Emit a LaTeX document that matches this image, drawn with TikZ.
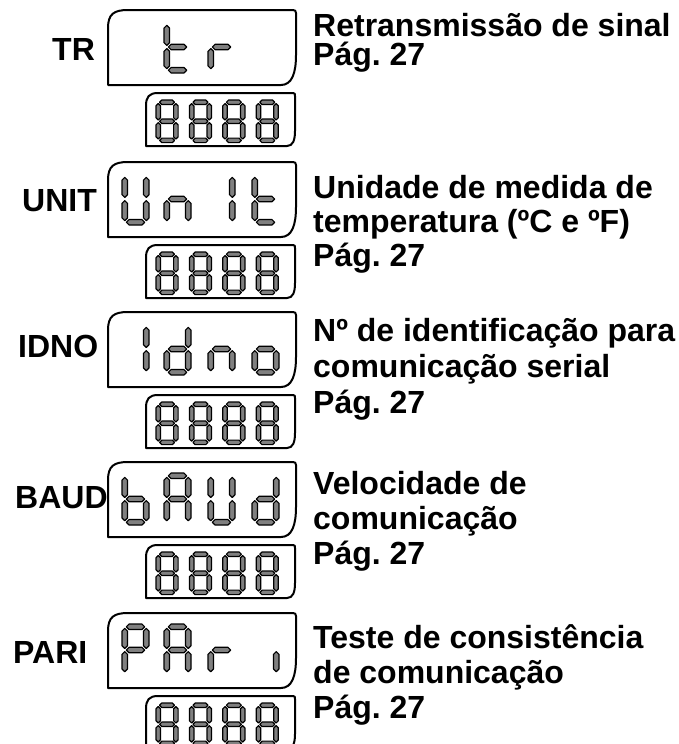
\documentclass[tikz,border=0pt]{standalone}
\usepackage{fontspec}
\setmainfont{Liberation Sans}
\frenchspacing
\lineskiplimit=-100pt
\newcommand\lcdsega{(4.35,2.75)--(7.1,0)--(19.9,0)--(22.65,2.75)--(19.9,5.5)--(7.1,5.5)--cycle}
\newcommand\lcdsegb{(24.25,4.35)--(27,7.1)--(27,21.65)--(24.25,24.4)--(21.5,21.65)--(21.5,7.1)--cycle}
\newcommand\lcdsegc{(24.25,27.6)--(27,30.35)--(27,44.9)--(24.25,47.65)--(21.5,44.9)--(21.5,30.35)--cycle}
\newcommand\lcdsegd{(4.35,49.25)--(7.1,46.5)--(19.9,46.5)--(22.65,49.25)--(19.9,52)--(7.1,52)--cycle}
\newcommand\lcdsege{(2.75,27.6)--(5.5,30.35)--(5.5,44.9)--(2.75,47.65)--(0,44.9)--(0,30.35)--cycle}
\newcommand\lcdsegf{(2.75,4.35)--(5.5,7.1)--(5.5,21.65)--(2.75,24.4)--(0,21.65)--(0,7.1)--cycle}
\newcommand\lcdsegg{(4.35,26)--(7.1,23.25)--(19.9,23.25)--(22.65,26)--(19.9,28.75)--(7.1,28.75)--cycle}
\tikzset{
  x=1pt,y=-1pt,
  seg/.style={draw=black,line width=1.2pt,fill=black!50,line join=round},
  frame/.style={draw=black,line width=2pt,line join=round},
  lbl/.style={inner sep=0pt,anchor=base west,font=\fontsize{32}{32}\selectfont\bfseries},
  txt/.style={lbl,align=left,font=\fontsize{32}{#1}\selectfont\bfseries},
  pics/digit/.style={code={\foreach \s in {#1}{\path[seg] \csname lcdseg\s\endcsname;}}},
  pics/panel/.style={code={
    \draw[frame] (108,75) -- (108,18) .. controls (108,4) and (114,0) .. (128,0) -- (293,0)
      .. controls (295,0) and (296,1) .. (296,3) -- (296,45) .. controls (296,63) and (292,75) .. (281,75) -- cycle;
    \draw[frame] (146,136) -- (146,96) .. controls (146,87) and (149,83) .. (158,83) -- (293,83)
      .. controls (295,83) and (295,84) .. (295,86) -- (295,121) .. controls (295,130) and (293,136) .. (287,136) -- cycle;
    \foreach \i in {0,...,3}
      \pic[scale=0.82] at (156+33.4*\i,90) {digit={a,b,c,d,e,f,g}};
  }},
}
\begin{document}
\begin{tikzpicture}
\useasboundingbox (0,0) rectangle (678,744);

\pic (trpanel) at (0,10) {panel};
\pic at (164,21) {digit={d,e,f,g}};
\pic at (208,21) {digit={e,g}};
\node[lbl] (tr) at (52,60) {TR};
\node[txt=29] (trtxt) at (313,65) {Retransmissão de sinal\\Pág. 27};

\pic (unitpanel) at (0,162) {panel};
\pic at (122,173) {digit={b,c,d,e,f}};
\pic at (164,173) {digit={c,e,g}};
\pic at (208,173) {digit={b,c}};
\pic at (252,173) {digit={d,e,f,g}};
\node[lbl] (unit) at (22,211) {UNIT};
\node[txt=34] (unittxt) at (313,266) {Unidade de medida de\\temperatura (ºC e ºF)\\Pág. 27};

\pic (idnopanel) at (0,312) {panel};
\pic at (122,323) {digit={b,c}};
\pic at (164,323) {digit={b,c,d,e,g}};
\pic at (208,323) {digit={c,e,g}};
\pic at (252,323) {digit={c,d,e,g}};
\node[lbl] (idno) at (18,357) {IDNO};
\node[txt=36] (idnotxt) at (313,413) {Nº de identificação para\\comunicação serial\\Pág. 27};

\pic (baudpanel) at (0,462) {panel};
\pic at (122,473) {digit={c,d,e,f,g}};
\pic at (164,473) {digit={a,b,c,e,f,g}};
\pic at (208,473) {digit={b,c,d,e,f}};
\pic at (252,473) {digit={b,c,d,e,g}};
\node[lbl] (baud) at (15,508) {BAUD};
\node[txt=35] (baudtxt) at (313,564) {Velocidade de\\comunicação\\Pág. 27};

\pic (paripanel) at (0,613) {panel};
\pic at (122,624) {digit={a,b,e,f,g}};
\pic at (164,624) {digit={a,b,c,e,f,g}};
\pic at (208,624) {digit={e,g}};
\pic at (252,624) {digit={c}};
\node[lbl] (pari) at (13,663) {PARI};
\node[txt=35] (paritxt) at (313,718) {Teste de consistência\\de comunicação\\Pág. 27};
\end{tikzpicture}
\end{document}
